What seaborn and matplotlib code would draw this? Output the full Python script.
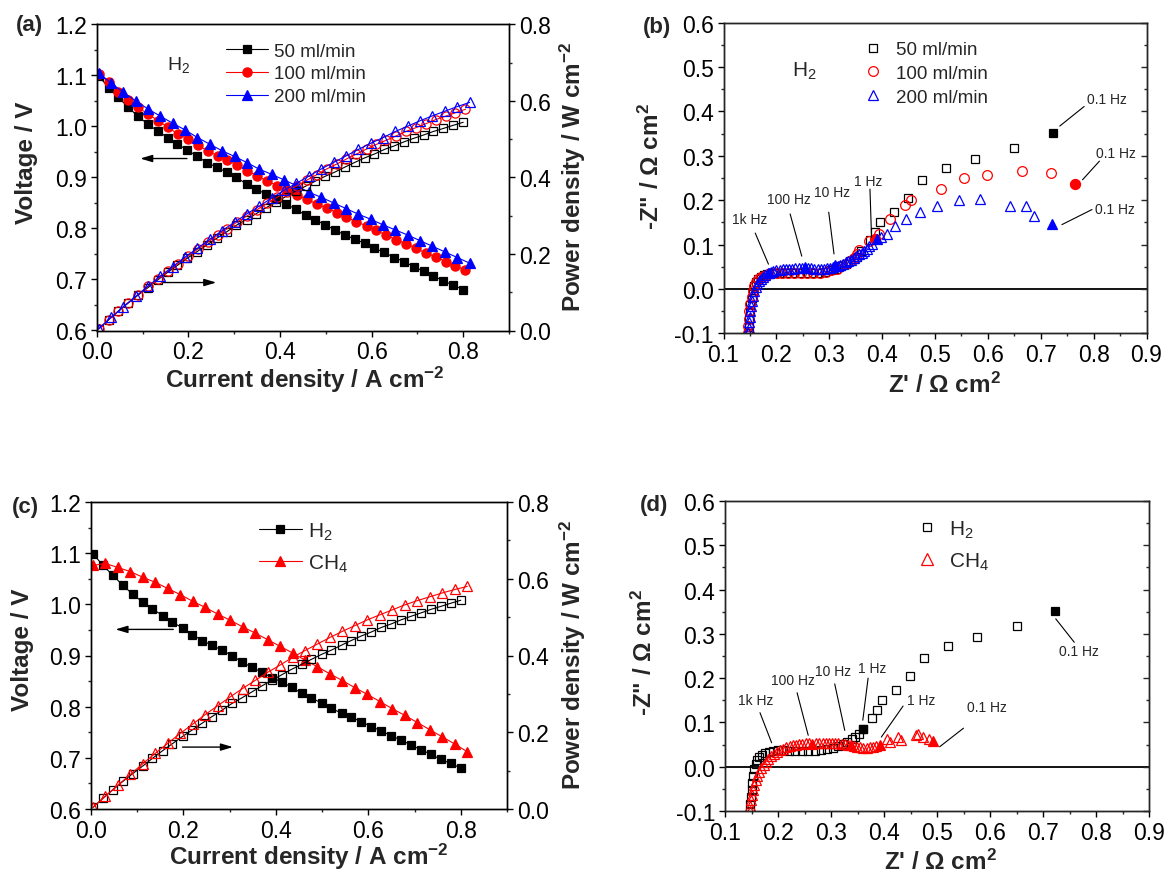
import matplotlib
matplotlib.use("Agg")
import matplotlib.pyplot as plt
import matplotlib.ticker as mticker
import seaborn as sns

# ---------------- (a) polarisation curves, H2 at three flow rates ----------------
i50 = [0.004, 0.026, 0.047, 0.069, 0.090, 0.112, 0.133, 0.155, 0.176, 0.198, 0.219, 0.241, 0.262,
       0.284, 0.305, 0.327, 0.348, 0.370, 0.391, 0.413, 0.434, 0.456, 0.477, 0.499, 0.520, 0.542,
       0.563, 0.585, 0.606, 0.628, 0.649, 0.671, 0.692, 0.714, 0.735, 0.757, 0.778, 0.800]
v50 = [1.099, 1.076, 1.057, 1.037, 1.020, 1.004, 0.991, 0.978, 0.965, 0.954, 0.941, 0.929, 0.920,
       0.910, 0.900, 0.887, 0.877, 0.867, 0.857, 0.848, 0.838, 0.826, 0.817, 0.807, 0.797, 0.787,
       0.779, 0.771, 0.761, 0.753, 0.743, 0.735, 0.725, 0.716, 0.707, 0.697, 0.689, 0.680]
p50 = [0.004, 0.028, 0.050, 0.072, 0.092, 0.112, 0.132, 0.152, 0.170, 0.189, 0.206, 0.224, 0.241,
       0.258, 0.275, 0.290, 0.305, 0.321, 0.335, 0.350, 0.364, 0.377, 0.390, 0.403, 0.414, 0.427,
       0.439, 0.451, 0.461, 0.473, 0.482, 0.493, 0.502, 0.511, 0.520, 0.528, 0.536, 0.544]

i100 = [0.004, 0.026, 0.047, 0.069, 0.091, 0.112, 0.134, 0.156, 0.177, 0.199, 0.221, 0.242, 0.264,
        0.285, 0.307, 0.329, 0.350, 0.372, 0.394, 0.415, 0.437, 0.459, 0.480, 0.502, 0.524, 0.545,
        0.567, 0.589, 0.610, 0.632, 0.653, 0.675, 0.697, 0.718, 0.740, 0.762, 0.783, 0.805]
v100 = [1.103, 1.087, 1.068, 1.052, 1.037, 1.024, 1.011, 0.998, 0.985, 0.975, 0.963, 0.952, 0.942,
        0.934, 0.924, 0.913, 0.903, 0.893, 0.884, 0.875, 0.866, 0.857, 0.848, 0.840, 0.831, 0.822,
        0.813, 0.805, 0.796, 0.787, 0.778, 0.770, 0.761, 0.752, 0.744, 0.735, 0.727, 0.718]
p100 = [0.004, 0.028, 0.050, 0.073, 0.094, 0.115, 0.135, 0.156, 0.174, 0.194, 0.213, 0.230, 0.249,
        0.266, 0.284, 0.300, 0.316, 0.332, 0.348, 0.363, 0.378, 0.393, 0.407, 0.422, 0.435, 0.448,
        0.461, 0.474, 0.486, 0.497, 0.508, 0.520, 0.530, 0.540, 0.551, 0.560, 0.569, 0.578]

i200 = [0.004, 0.031, 0.058, 0.085, 0.112, 0.139, 0.166, 0.193, 0.220, 0.247, 0.274, 0.301, 0.328,
        0.355, 0.382, 0.409, 0.436, 0.463, 0.490, 0.517, 0.544, 0.571, 0.598, 0.625, 0.652, 0.679,
        0.706, 0.733, 0.760, 0.787, 0.814]
v200 = [1.105, 1.085, 1.067, 1.050, 1.034, 1.020, 1.006, 0.993, 0.978, 0.965, 0.952, 0.941, 0.929,
        0.916, 0.906, 0.895, 0.884, 0.871, 0.861, 0.850, 0.839, 0.828, 0.818, 0.807, 0.797, 0.787,
        0.776, 0.765, 0.754, 0.743, 0.732]
p200 = [0.004, 0.034, 0.062, 0.089, 0.116, 0.142, 0.167, 0.192, 0.215, 0.238, 0.261, 0.283, 0.305,
        0.325, 0.346, 0.366, 0.385, 0.403, 0.422, 0.439, 0.456, 0.473, 0.489, 0.504, 0.520, 0.534,
        0.548, 0.561, 0.573, 0.585, 0.596]

# ---------------- (c) H2 (same cell as 50 ml/min) versus CH4 ----------------
i_ch4 = [0.004, 0.031, 0.058, 0.085, 0.112, 0.139, 0.166, 0.193, 0.220, 0.247, 0.274, 0.301, 0.328,
         0.355, 0.382, 0.409, 0.436, 0.463, 0.490, 0.517, 0.544, 0.571, 0.598, 0.625, 0.652, 0.679,
         0.706, 0.733, 0.760, 0.787, 0.814]
v_ch4 = [1.076, 1.080, 1.072, 1.064, 1.053, 1.043, 1.031, 1.019, 1.006, 0.994, 0.981, 0.969, 0.956,
         0.944, 0.931, 0.918, 0.905, 0.891, 0.878, 0.864, 0.851, 0.837, 0.824, 0.810, 0.796, 0.783,
         0.769, 0.755, 0.741, 0.727, 0.712]
p_ch4 = [0.004, 0.033, 0.062, 0.090, 0.118, 0.145, 0.171, 0.197, 0.221, 0.246, 0.269, 0.292, 0.314,
         0.335, 0.356, 0.375, 0.395, 0.413, 0.430, 0.447, 0.463, 0.478, 0.493, 0.506, 0.519, 0.532,
         0.543, 0.553, 0.563, 0.572, 0.580]

# ---------------- (b)/(d) impedance spectra ----------------
z50_re = [0.147, 0.148, 0.149, 0.150, 0.151, 0.153, 0.155, 0.158, 0.161, 0.165, 0.170, 0.176, 0.183,
          0.191, 0.200, 0.210, 0.221, 0.233, 0.245, 0.257, 0.269, 0.281, 0.292, 0.303, 0.313, 0.322,
          0.331, 0.339, 0.346, 0.352, 0.360, 0.377, 0.387, 0.396, 0.422, 0.449, 0.475, 0.521, 0.575,
          0.650]
z50_im = [-0.100, -0.085, -0.068, -0.052, -0.036, -0.020, -0.006, 0.006, 0.015, 0.022, 0.027, 0.031,
          0.034, 0.036, 0.037, 0.037, 0.036, 0.036, 0.035, 0.035, 0.036, 0.037, 0.039, 0.042, 0.046,
          0.051, 0.056, 0.062, 0.068, 0.073, 0.085, 0.111, 0.128, 0.150, 0.174, 0.205, 0.245, 0.272,
          0.293, 0.317]

z100_re = [0.146, 0.147, 0.148, 0.149, 0.151, 0.153, 0.155, 0.158, 0.162, 0.166, 0.171, 0.177, 0.184,
           0.192, 0.201, 0.211, 0.222, 0.234, 0.246, 0.258, 0.270, 0.282, 0.293, 0.304, 0.314, 0.323,
           0.332, 0.340, 0.347, 0.353, 0.357, 0.376, 0.395, 0.415, 0.443, 0.454, 0.512, 0.555, 0.599,
           0.664, 0.719]
z100_im = [-0.100, -0.084, -0.067, -0.050, -0.034, -0.019, -0.005, 0.007, 0.016, 0.022, 0.027, 0.030,
           0.033, 0.035, 0.036, 0.036, 0.036, 0.035, 0.035, 0.035, 0.036, 0.037, 0.039, 0.042, 0.046,
           0.051, 0.057, 0.063, 0.070, 0.078, 0.088, 0.109, 0.124, 0.158, 0.190, 0.201, 0.225, 0.250,
           0.257, 0.265, 0.261]

z200_re = [0.147, 0.148, 0.149, 0.150, 0.151, 0.152, 0.154, 0.156, 0.158, 0.161, 0.164, 0.167, 0.171,
           0.175, 0.179, 0.184, 0.189, 0.194, 0.200, 0.206, 0.212, 0.218, 0.224, 0.230, 0.236, 0.242,
           0.248, 0.260, 0.266, 0.272, 0.278, 0.284, 0.290, 0.296, 0.302, 0.307, 0.316, 0.321, 0.326,
           0.331, 0.336, 0.341, 0.346, 0.351, 0.356, 0.361, 0.366, 0.371, 0.376, 0.381, 0.398, 0.409,
           0.424, 0.446, 0.471, 0.503, 0.546, 0.585, 0.642, 0.672, 0.687]
z200_im = [-0.100, -0.088, -0.075, -0.062, -0.050, -0.038, -0.026, -0.015, -0.005, 0.004, 0.012, 0.018,
           0.023, 0.028, 0.032, 0.035, 0.038, 0.040, 0.042, 0.043, 0.044, 0.045, 0.046, 0.046, 0.047,
           0.047, 0.047, 0.047, 0.047, 0.046, 0.046, 0.046, 0.046, 0.047, 0.048, 0.049, 0.052, 0.054,
           0.057, 0.060, 0.063, 0.066, 0.070, 0.074, 0.078, 0.082, 0.086, 0.091, 0.096, 0.101, 0.116,
           0.124, 0.141, 0.158, 0.174, 0.188, 0.201, 0.203, 0.188, 0.186, 0.164]

zch4_re = [0.147, 0.148, 0.149, 0.151, 0.153, 0.155, 0.158, 0.161, 0.164, 0.168, 0.173, 0.177, 0.182,
           0.187, 0.192, 0.198, 0.204, 0.210, 0.216, 0.222, 0.228, 0.234, 0.240, 0.246, 0.252, 0.258,
           0.272, 0.278, 0.284, 0.290, 0.296, 0.302, 0.308, 0.314, 0.320, 0.326, 0.332, 0.343, 0.349,
           0.355, 0.361, 0.367, 0.373, 0.379, 0.385, 0.405, 0.412, 0.427, 0.432, 0.460, 0.465, 0.473,
           0.485]
zch4_im = [-0.100, -0.088, -0.076, -0.064, -0.052, -0.041, -0.031, -0.021, -0.012, -0.004, 0.004, 0.011,
           0.018, 0.024, 0.029, 0.034, 0.038, 0.041, 0.044, 0.046, 0.048, 0.050, 0.051, 0.052, 0.053,
           0.053, 0.053, 0.053, 0.053, 0.053, 0.053, 0.053, 0.053, 0.053, 0.052, 0.051, 0.050, 0.047,
           0.045, 0.044, 0.043, 0.043, 0.044, 0.045, 0.047, 0.062, 0.056, 0.066, 0.060, 0.071, 0.074,
           0.068, 0.063]

# highlighted frequencies (filled markers)
f50_b = ([0.723], [0.351])
f100_b = ([0.387, 0.764], [0.113, 0.236])
f200_b = ([0.186, 0.254, 0.311, 0.390, 0.722], [0.036, 0.049, 0.053, 0.113, 0.146])
fh2_d = ([0.360, 0.723], [0.085, 0.351])
fch4_d = ([0.265, 0.337, 0.392, 0.493], [0.052, 0.049, 0.050, 0.059])

# frequency labels: text, text position, leader line start, leader line end
notes_b = [("1k Hz", (0.150, 0.158), (0.160, 0.126), (0.185, 0.056)),
           ("100 Hz", (0.224, 0.203), (0.226, 0.169), (0.248, 0.074)),
           ("10 Hz", (0.306, 0.218), (0.299, 0.173), (0.309, 0.079)),
           ("1 Hz", (0.374, 0.244), (0.377, 0.225), (0.380, 0.116)),
           ("0.1 Hz", (0.826, 0.427), (0.782, 0.411), (0.736, 0.367)),
           ("0.1 Hz", (0.842, 0.307), (0.811, 0.288), (0.779, 0.246)),
           ("0.1 Hz", (0.841, 0.181), (0.797, 0.179), (0.740, 0.145))]
notes_d = [("1k Hz", (0.157, 0.151), (0.166, 0.122), (0.188, 0.054)),
           ("100 Hz", (0.228, 0.195), (0.236, 0.167), (0.257, 0.071)),
           ("10 Hz", (0.304, 0.215), (0.307, 0.187), (0.326, 0.082)),
           ("1 Hz", (0.377, 0.223), (0.370, 0.200), (0.360, 0.105)),
           ("1 Hz", (0.470, 0.151), (0.436, 0.137), (0.395, 0.067)),
           ("0.1 Hz", (0.594, 0.135), (0.550, 0.087), (0.505, 0.045)),
           ("0.1 Hz", (0.768, 0.261), (0.724, 0.334), (0.759, 0.281))]

RED = "#ff0000"
BLUE = "#0000ff"

sns.set_theme(style="ticks")
plt.rcParams["font.family"] = ["Liberation Sans", "DejaVu Sans"]
plt.rcParams["mathtext.fontset"] = "custom"
plt.rcParams["mathtext.rm"] = "Liberation Sans"
plt.rcParams["mathtext.it"] = "Liberation Sans:italic"
plt.rcParams["mathtext.bf"] = "Liberation Sans:bold"
plt.rcParams["axes.unicode_minus"] = False
plt.rcParams["axes.linewidth"] = 1.0

W, H = 1166, 878
fig = plt.figure(figsize=(W / 100, H / 100), dpi=100)


def add_axes_px(left, top, right, bottom):
    return fig.add_axes([left / W, 1 - bottom / H, (right - left) / W, (bottom - top) / H])


def fig_text(x, y, s, **kw):
    fig.text(x / W, 1 - y / H, s, ha="center", va="center", **kw)


def curve(ax, x, y, color, marker, ms, filled, label=None):
    sns.lineplot(x=x, y=y, ax=ax, color=color, marker=marker, markersize=ms,
                 mfc=color if filled else "none", mec=color, mew=0.9, lw=0.8,
                 sort=False, estimator=None, label=label)


def points(ax, x, y, color, marker, ms, filled):
    sns.lineplot(x=x, y=y, ax=ax, color=color, marker=marker, markersize=ms,
                 mfc=color if filled else "none", mec=color, mew=0.9, linestyle="none",
                 sort=False, estimator=None)


def style_iv(ax, ax2):
    ax.set_xlim(0, 0.9)
    ax.set_ylim(0.6, 1.2)
    ax2.set_ylim(0, 0.8)
    ax.xaxis.set_major_locator(mticker.FixedLocator([0, 0.2, 0.4, 0.6, 0.8]))
    ax.xaxis.set_minor_locator(mticker.MultipleLocator(0.1))
    ax.yaxis.set_major_locator(mticker.MultipleLocator(0.1))
    ax.yaxis.set_minor_locator(mticker.MultipleLocator(0.05))
    ax2.yaxis.set_major_locator(mticker.MultipleLocator(0.2))
    ax2.yaxis.set_minor_locator(mticker.MultipleLocator(0.1))
    ax.xaxis.set_major_formatter(mticker.FormatStrFormatter("%.1f"))
    ax.yaxis.set_major_formatter(mticker.FormatStrFormatter("%.1f"))
    ax2.yaxis.set_major_formatter(mticker.FormatStrFormatter("%.1f"))
    for a in (ax, ax2):
        a.tick_params(which="major", direction="out", length=4, width=1, labelsize=16.5,
                      colors="black", pad=3)
        a.tick_params(which="minor", direction="out", length=2.5, width=1)
        a.set_xlabel("")
        a.set_ylabel("")
        for s in a.spines.values():
            s.set_visible(True)
            s.set_linewidth(1.0)
            s.set_color("black")
    ax.tick_params(which="both", top=False, right=False)
    ax2.tick_params(which="both", right=True, left=False)


def style_eis(ax):
    ax.set_xlim(0.1, 0.9)
    ax.set_ylim(-0.1, 0.6)
    ax.xaxis.set_major_locator(mticker.MultipleLocator(0.1))
    ax.xaxis.set_minor_locator(mticker.MultipleLocator(0.05))
    ax.yaxis.set_major_locator(mticker.MultipleLocator(0.1))
    ax.yaxis.set_minor_locator(mticker.MultipleLocator(0.05))
    ax.xaxis.set_major_formatter(mticker.FormatStrFormatter("%.1f"))
    ax.yaxis.set_major_formatter(mticker.FormatStrFormatter("%.1f"))
    ax.tick_params(which="major", direction="out", length=4, width=1, labelsize=16.5,
                   colors="black", pad=3)
    ax.tick_params(which="minor", direction="out", length=2.5, width=1)
    ax.set_xlabel("")
    ax.set_ylabel("")
    for s in ax.spines.values():
        s.set_visible(True)
        s.set_linewidth(1.0)
        s.set_color("black")
    mirror = ax.twinx()
    mirror.set_ylim(ax.get_ylim())
    mirror.yaxis.set_major_locator(mticker.MultipleLocator(0.1))
    mirror.yaxis.set_minor_locator(mticker.MultipleLocator(0.05))
    mirror.tick_params(which="major", direction="in", length=4, width=1, labelright=False)
    mirror.tick_params(which="minor", direction="in", length=2.5, width=1)
    ax.axhline(0, color="black", lw=1.3, zorder=1)


def leader(ax, notes):
    for txt, pos, start, end in notes:
        ax.annotate("", xy=end, xytext=start,
                    arrowprops=dict(arrowstyle="-", color="black", lw=0.8,
                                    shrinkA=0, shrinkB=0))
        ax.text(pos[0], pos[1], txt, fontsize=10, ha="center", va="center")


def arrow(ax, start, end):
    ax.annotate("", xy=end, xytext=start,
                arrowprops=dict(arrowstyle="-|>,head_length=0.6,head_width=0.18",
                                color="black", lw=1.0, shrinkA=0, shrinkB=0))


# ---------------- panel (a) ----------------
ax_a = add_axes_px(96.7, 25.3, 509, 331.5)
ax_a2 = ax_a.twinx()
curve(ax_a, i50, v50, "black", "s", 5.6, True, "50 ml/min")
curve(ax_a, i100, v100, RED, "o", 6.6, True, "100 ml/min")
curve(ax_a, i200, v200, BLUE, "^", 7.0, True, "200 ml/min")
curve(ax_a2, i50, p50, "black", "s", 5.6, False)
curve(ax_a2, i100, p100, RED, "o", 6.6, False)
curve(ax_a2, i200, p200, BLUE, "^", 7.0, False)
style_iv(ax_a, ax_a2)
h, l = ax_a.get_legend_handles_labels()
ax_a.legend(h, l, loc="center left", bbox_to_anchor=(0.313, 0.838), frameon=False,
            fontsize=13.5, handlelength=2.25, handletextpad=0.3, labelspacing=0.3,
            borderpad=0, borderaxespad=0)
ax_a.text(0.179, 1.122, "H$_2$", fontsize=14, ha="center", va="center")
arrow(ax_a, (0.197, 0.937), (0.095, 0.937))
arrow(ax_a, (0.146, 0.694), (0.261, 0.694))

# ---------------- panel (c) ----------------
ax_c = add_axes_px(91, 503, 507, 810)
ax_c2 = ax_c.twinx()
curve(ax_c, i50, v50, "black", "s", 5.6, True, "H$_2$")
curve(ax_c, i_ch4, v_ch4, RED, "^", 7.0, True, "CH$_4$")
curve(ax_c2, i50, p50, "black", "s", 5.6, False)
curve(ax_c2, i_ch4, p_ch4, RED, "^", 7.0, False)
style_iv(ax_c, ax_c2)
h, l = ax_c.get_legend_handles_labels()
ax_c.legend(h, l, loc="center left", bbox_to_anchor=(0.403, 0.853), frameon=False,
            fontsize=15, handlelength=2.07, handletextpad=0.3, labelspacing=0.5,
            borderpad=0, borderaxespad=0)
arrow(ax_c, (0.178, 0.951), (0.053, 0.951))
arrow(ax_c, (0.198, 0.721), (0.307, 0.721))

# ---------------- panel (b) ----------------
ax_b = add_axes_px(723.5, 23.6, 1146.5, 334.4)
points(ax_b, z50_re, z50_im, "black", "s", 5.8, False)
points(ax_b, z100_re, z100_im, RED, "o", 7.0, False)
points(ax_b, z200_re, z200_im, BLUE, "^", 7.5, False)
points(ax_b, *f50_b, "black", "s", 6.0, True)
points(ax_b, *f100_b, RED, "o", 7.2, True)
points(ax_b, *f200_b, BLUE, "^", 7.6, True)
leg_b = [plt.Line2D([], [], ls="none", marker="s", ms=6.0, mfc="none", mec="black", mew=0.9),
         plt.Line2D([], [], ls="none", marker="o", ms=7.0, mfc="none", mec=RED, mew=0.9),
         plt.Line2D([], [], ls="none", marker="^", ms=7.5, mfc="none", mec=BLUE, mew=0.9)]
ax_b.legend(leg_b, ["50 ml/min", "100 ml/min", "200 ml/min"], loc="center left",
            bbox_to_anchor=(0.332, 0.837), frameon=False, fontsize=13.5, handlelength=1.0,
            handletextpad=0.7, labelspacing=0.35, borderpad=0, borderaxespad=0)
ax_b.text(0.2525, 0.492, "H$_2$", fontsize=15, ha="center", va="center")
leader(ax_b, notes_b)
style_eis(ax_b)

# ---------------- panel (d) ----------------
ax_d = add_axes_px(725, 502, 1149, 812)
points(ax_d, z50_re, z50_im, "black", "s", 5.8, False)
points(ax_d, zch4_re, zch4_im, RED, "^", 7.8, False)
points(ax_d, *fh2_d, "black", "s", 6.0, True)
points(ax_d, *fch4_d, RED, "^", 7.8, True)
leg_d = [plt.Line2D([], [], ls="none", marker="s", ms=6.2, mfc="none", mec="black", mew=0.9),
         plt.Line2D([], [], ls="none", marker="^", ms=8.0, mfc="none", mec=RED, mew=0.9)]
ax_d.legend(leg_d, ["H$_2$", "CH$_4$"], loc="center left", bbox_to_anchor=(0.453, 0.858),
            frameon=False, fontsize=15, handlelength=1.0, handletextpad=0.55, labelspacing=0.5,
            borderpad=0, borderaxespad=0)
leader(ax_d, notes_d)
style_eis(ax_d)

# ---------------- labels ----------------
bold = dict(fontsize=17.5, fontweight="bold")
fig_text(27, 163, "Voltage / V", rotation=90, **bold)
fig_text(573, 177, "Power density / W cm$^{\\mathbf{-2}}$", rotation=90, **bold)
fig_text(305, 380, "Current density / A cm$^{\\mathbf{-2}}$", **bold)
fig_text(22, 650, "Voltage / V", rotation=90, **bold)
fig_text(573, 655, "Power density / W cm$^{\\mathbf{-2}}$", rotation=90, **bold)
fig_text(309, 857, "Current density / A cm$^{\\mathbf{-2}}$", **bold)
fig_text(651, 167, "-Z\" / \u03a9 cm$^{\\mathbf{2}}$", rotation=90, **bold)
fig_text(944, 385, "Z' / \u03a9 cm$^{\\mathbf{2}}$", **bold)
fig_text(644, 653, "-Z\" / \u03a9 cm$^{\\mathbf{2}}$", rotation=90, **bold)
fig_text(940, 862, "Z' / \u03a9 cm$^{\\mathbf{2}}$", **bold)

panel = dict(fontsize=16, fontweight="bold")
fig_text(29, 25, "(a)", **panel)
fig_text(657, 28, "(b)", **panel)
fig_text(25, 508, "(c)", **panel)
fig_text(654, 506, "(d)", **panel)

fig.savefig("out.png", dpi=100, facecolor="white")
